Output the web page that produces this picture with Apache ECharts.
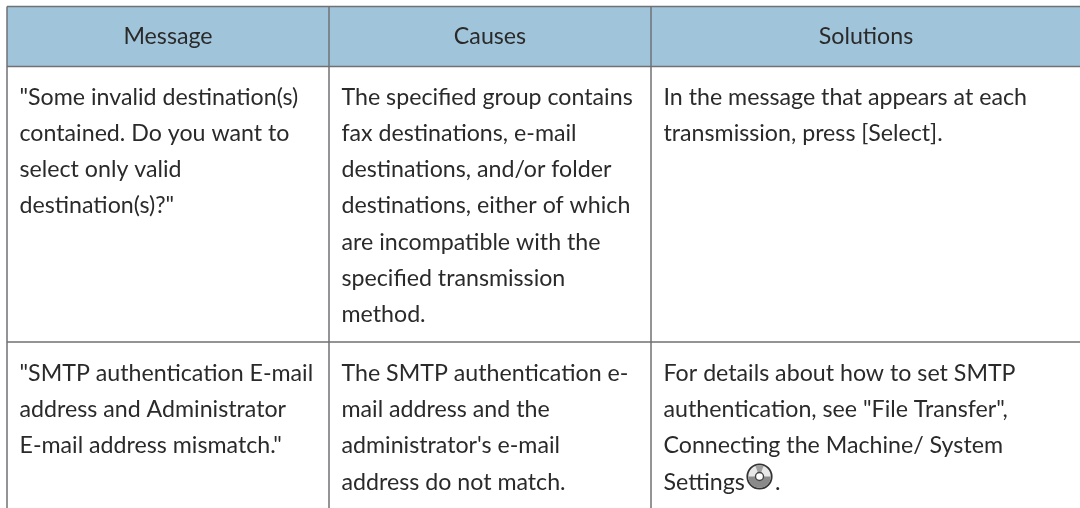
<!DOCTYPE html>
<html>
<head>
<meta charset="utf-8">
<title>Messages</title>
<script src="https://cdn.jsdelivr.net/npm/echarts@6/dist/echarts.min.js"></script>
<style>
  html, body { margin: 0; padding: 0; background: #fff; }
  #main { width: 1080px; height: 508px; }
</style>
</head>
<body>
<div id="main"></div>
<script>
const columnTitles = ['Message', 'Causes', 'Solutions'];

const messageRow1 = ['"Some invalid destination(s)', 'contained. Do you want to', 'select only valid', 'destination(s)?"'];
const causesRow1 = ['The specified group contains', 'fax destinations, e-mail', 'destinations, and/or folder', 'destinations, either of which', 'are incompatible with the', 'specified transmission', 'method.'];
const solutionsRow1 = ['In the message that appears at each', 'transmission, press [Select].'];

const messageRow2 = ['"SMTP authentication E-mail', 'address and Administrator', 'E-mail address mismatch."'];
const causesRow2 = ['The SMTP authentication e-', 'mail address and the', "administrator's e-mail", 'address do not match.'];
const solutionsRow2 = ['For details about how to set SMTP', 'authentication, see "File Transfer",', 'Connecting the Machine/ System', 'Settings'];

const tableRows = [
  [messageRow1, causesRow1, solutionsRow1],
  [messageRow2, causesRow2, solutionsRow2]
];

// layout, in page pixels
const colEdges = [7, 329, 651, 1081];
const rowEdges = [6.5, 66.5, 342, 509];
const padLeft = 12.5;
const firstLine = [97.7, 373.8];
const lineGap = 36.1;
const fontName = 'Lato';
const fontSize = 23.2;
const textColor = '#2b2a2b';
const lineColor = '#717174';
const headColor = '#a0c5da';

let textItems = [];
columnTitles.forEach((t, c) => textItems.push([(colEdges[c] + colEdges[c + 1]) / 2, 37, t, 'center']));
tableRows.forEach((row, r) => {
  row.forEach((lines, c) => {
    lines.forEach((t, i) => {
      textItems.push([colEdges[c] + padLeft, firstLine[r] + i * lineGap, t, 'left']);
    });
  });
});
textItems.push([775, firstLine[1] + 3 * lineGap, '.', 'left']);

const myChart = echarts.init(document.getElementById('main'), null, { renderer: 'canvas' });

myChart.setOption({
  animation: false,
  backgroundColor: '#fff',
  grid: { left: 0, right: 0, top: 0, bottom: 0 },
  xAxis: { type: 'value', min: 0, max: 1080, show: false },
  yAxis: { type: 'value', min: 0, max: 508, inverse: true, show: false },
  series: [
    {
      // header band
      type: 'custom',
      silent: true,
      coordinateSystem: 'cartesian2d',
      data: [[colEdges[0], rowEdges[0], colEdges[3], rowEdges[1]]],
      renderItem(params, api) {
        const a = api.coord([api.value(0), api.value(1)]);
        const b = api.coord([api.value(2), api.value(3)]);
        return { type: 'rect', shape: { x: a[0], y: a[1], width: b[0] - a[0], height: b[1] - a[1] }, style: { fill: headColor } };
      }
    },
    {
      // table rules
      type: 'custom',
      silent: true,
      coordinateSystem: 'cartesian2d',
      data: [
        [colEdges[0], rowEdges[0], colEdges[3], rowEdges[0]],
        [colEdges[0], rowEdges[1], colEdges[3], rowEdges[1]],
        [colEdges[0], rowEdges[2], colEdges[3], rowEdges[2]],
        [colEdges[0], rowEdges[0], colEdges[0], rowEdges[3]],
        [colEdges[1], rowEdges[0], colEdges[1], rowEdges[3]],
        [colEdges[2], rowEdges[0], colEdges[2], rowEdges[3]]
      ],
      renderItem(params, api) {
        const a = api.coord([api.value(0), api.value(1)]);
        const b = api.coord([api.value(2), api.value(3)]);
        return { type: 'line', shape: { x1: a[0], y1: a[1], x2: b[0], y2: b[1] }, style: { stroke: lineColor, lineWidth: 1.5 } };
      }
    },
    {
      // all cell text
      type: 'custom',
      silent: true,
      coordinateSystem: 'cartesian2d',
      encode: { x: 0, y: 1 },
      data: textItems,
      renderItem(params, api) {
        const p = api.coord([api.value(0), api.value(1)]);
        const item = textItems[params.dataIndex];
        return {
          type: 'text',
          style: { x: p[0], y: p[1], text: item[2], align: item[3], verticalAlign: 'middle', fill: textColor, font: fontSize + 'px ' + fontName }
        };
      }
    },
    {
      // disc icon after "Settings"
      type: 'custom',
      silent: true,
      coordinateSystem: 'cartesian2d',
      data: [[759.5, 476.5]],
      renderItem(params, api) {
        const p = api.coord([api.value(0), api.value(1)]);
        const x = p[0], y = p[1];
        return {
          type: 'group',
          children: [
            { type: 'circle', shape: { cx: x, cy: y, r: 12.2 }, style: { fill: '#e8e8e8', stroke: '#333', lineWidth: 1.8 } },
            { type: 'sector', shape: { cx: x, cy: y, r: 11.2, r0: 0, startAngle: 0, endAngle: Math.PI }, style: { fill: '#8a8a8a' } },
            { type: 'sector', shape: { cx: x, cy: y, r: 11.2, r0: 0, startAngle: -Math.PI * 0.62, endAngle: -Math.PI * 0.38 }, style: { fill: '#a0a0a0' } },
            { type: 'circle', shape: { cx: x, cy: y, r: 4 }, style: { fill: '#fff', stroke: '#444', lineWidth: 1.4 } }
          ]
        };
      }
    }
  ]
});
</script>
</body>
</html>
